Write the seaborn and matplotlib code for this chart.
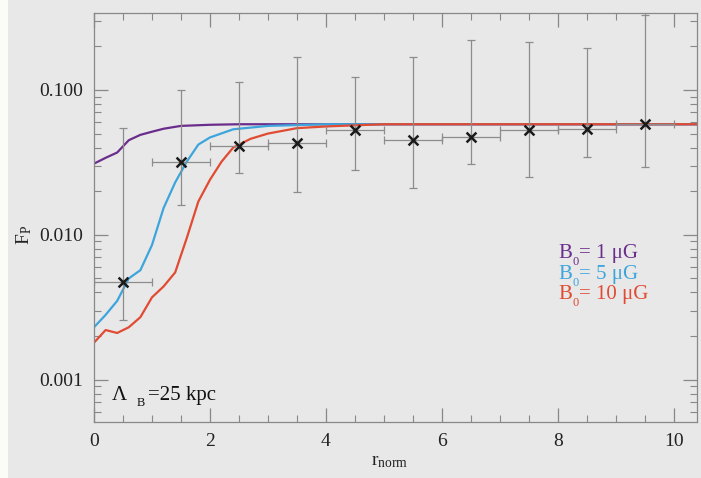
import numpy as np
import pandas as pd
import matplotlib
matplotlib.use("Agg")
import matplotlib.pyplot as plt
import matplotlib.ticker as mticker
from matplotlib.patches import Rectangle
import seaborn as sns

# binned measurements (crosses with error bars)
r_bins = [0.5, 1.5, 2.5, 3.5, 4.5, 5.5, 6.5, 7.5, 8.5, 9.5]
fp_obs = [0.0047, 0.032, 0.041, 0.043, 0.053, 0.045, 0.047, 0.053, 0.054, 0.058]
fp_hi = [0.055, 0.100, 0.113, 0.169, 0.123, 0.168, 0.221, 0.215, 0.195, 0.33]
fp_lo = [0.0026, 0.0161, 0.0268, 0.0198, 0.028, 0.0211, 0.0309, 0.0251, 0.0345, 0.0294]
r_halfwidth = 0.5

# model curves
r_b1 = [0.0, 0.2, 0.4, 0.6, 0.8, 1.0, 1.2, 1.5, 2.0, 2.5, 3.0, 4.0, 6.0, 8.0, 10.5]
fp_b1 = [0.031, 0.034, 0.037, 0.045, 0.049, 0.0515, 0.054, 0.0565, 0.0575, 0.058, 0.058, 0.058, 0.058, 0.058, 0.058]

r_b5 = [0.0, 0.2, 0.4, 0.6, 0.8, 1.0, 1.2, 1.4, 1.6, 1.8, 2.0, 2.4, 3.0, 4.0, 6.0, 8.0, 10.5]
fp_b5 = [0.0023, 0.0028, 0.0035, 0.0050, 0.0057, 0.0085, 0.0153, 0.023, 0.032, 0.042, 0.047, 0.0535, 0.0565, 0.058, 0.058, 0.058, 0.058]

r_b10 = [0.0, 0.2, 0.4, 0.6, 0.8, 1.0, 1.2, 1.4, 1.6, 1.8, 2.0, 2.2, 2.4, 2.7, 3.0, 3.5, 4.0, 5.0, 7.0, 10.5]
fp_b10 = [0.0018, 0.0022, 0.0021, 0.0023, 0.0027, 0.0037, 0.0044, 0.0055, 0.0095, 0.017, 0.024, 0.032, 0.040, 0.046, 0.050, 0.0545, 0.056, 0.058, 0.058, 0.058]

field_values = ["1", "5", "10"]
colors = ["#6b2d8c", "#3da5dc", "#e04b32"]

sns.set_style("ticks")
plt.rcParams["font.family"] = ["Liberation Serif", "DejaVu Serif"]
plt.rcParams["mathtext.fontset"] = "custom"
plt.rcParams["mathtext.rm"] = "Liberation Serif"
plt.rcParams["mathtext.it"] = "Liberation Serif:italic"

bg = "#e8e8e8"
fig = plt.figure(figsize=(7.01, 4.78), dpi=100, facecolor=bg)
fig.patches.append(Rectangle((0, 0), 8 / 701, 1, transform=fig.transFigure,
                             facecolor="#fcfcf6", edgecolor="none"))
ax = fig.add_axes([94 / 701, 56 / 478, 603 / 701, 409 / 478])
ax.set_facecolor(bg)

for r, fp, c in zip([r_b1, r_b5, r_b10], [fp_b1, fp_b5, fp_b10], colors):
    d = pd.DataFrame({"r": r, "fp": fp})
    sns.lineplot(data=d, x="r", y="fp", color=c, linewidth=1.6, ax=ax, sort=False)

obs = pd.DataFrame({"r": r_bins, "fp": fp_obs, "lo": fp_lo, "hi": fp_hi})
ax.errorbar(obs["r"], obs["fp"], xerr=r_halfwidth,
            yerr=[obs["fp"] - obs["lo"], obs["hi"] - obs["fp"]],
            fmt="none", ecolor="#8c8c8c", elinewidth=0.9, capsize=3, capthick=0.9)
sns.scatterplot(data=obs, x="r", y="fp", marker="x", color="#1a1a1a", s=50,
                linewidth=1.8, ax=ax, zorder=5)

ax.set_yscale("log")
ax.set_xlim(0, 10.4)
ax.set_ylim(5.1e-4, 0.34)
ax.xaxis.set_major_locator(mticker.MultipleLocator(2))
ax.xaxis.set_minor_locator(mticker.MultipleLocator(0.5))
ax.yaxis.set_major_locator(mticker.FixedLocator([0.001, 0.01, 0.1]))
ax.yaxis.set_major_formatter(mticker.FixedFormatter(["0.001", "0.010", "0.100"]))
ax.yaxis.set_minor_locator(mticker.LogLocator(base=10, subs=np.arange(2, 10)))
ax.yaxis.set_minor_formatter(mticker.NullFormatter())
ax.tick_params(which="both", direction="in", top=True, right=True, color="#888888",
               labelsize=14, labelcolor="#222222", pad=8)
ax.tick_params(which="major", length=10, width=0.9)
ax.tick_params(which="minor", length=5, width=0.8)
for s in ax.spines.values():
    s.set_color("#888888")
    s.set_linewidth(0.9)

ax.set_xlabel("r$_\\mathrm{norm}$", fontsize=14, color="#222222")
ax.set_ylabel("F$_\\mathrm{P}$", fontsize=14, color="#222222")
ax.xaxis.set_label_coords(0.49, -0.075)
ax.yaxis.set_label_coords(-0.1, 0.457)

# coloured labels for the three field strengths, with a deep subscript
for i, (val, c) in enumerate(zip(field_values, colors)):
    y = 0.40 - i * 0.05
    ax.text(0.77, y, "B", transform=ax.transAxes, color=c, fontsize=15,
            ha="left", va="baseline")
    ax.annotate("0", xy=(0.77, y), xycoords="axes fraction", xytext=(10, -5),
                textcoords="offset points", color=c, fontsize=9,
                ha="left", va="baseline")
    ax.annotate("= " + val + " μG", xy=(0.77, y), xycoords="axes fraction",
                xytext=(15, 0), textcoords="offset points", color=c, fontsize=15,
                ha="left", va="baseline")

ax.text(0.03, 0.055, "Λ", transform=ax.transAxes, color="#111111", fontsize=15,
        ha="left", va="baseline")
ax.annotate("B", xy=(0.03, 0.055), xycoords="axes fraction", xytext=(18, -5),
            textcoords="offset points", color="#111111", fontsize=9,
            ha="left", va="baseline")
ax.annotate("=25 kpc", xy=(0.03, 0.055), xycoords="axes fraction", xytext=(26, 0),
            textcoords="offset points", color="#111111", fontsize=15,
            ha="left", va="baseline")

fig.savefig("out.png", dpi=100, facecolor=bg)
